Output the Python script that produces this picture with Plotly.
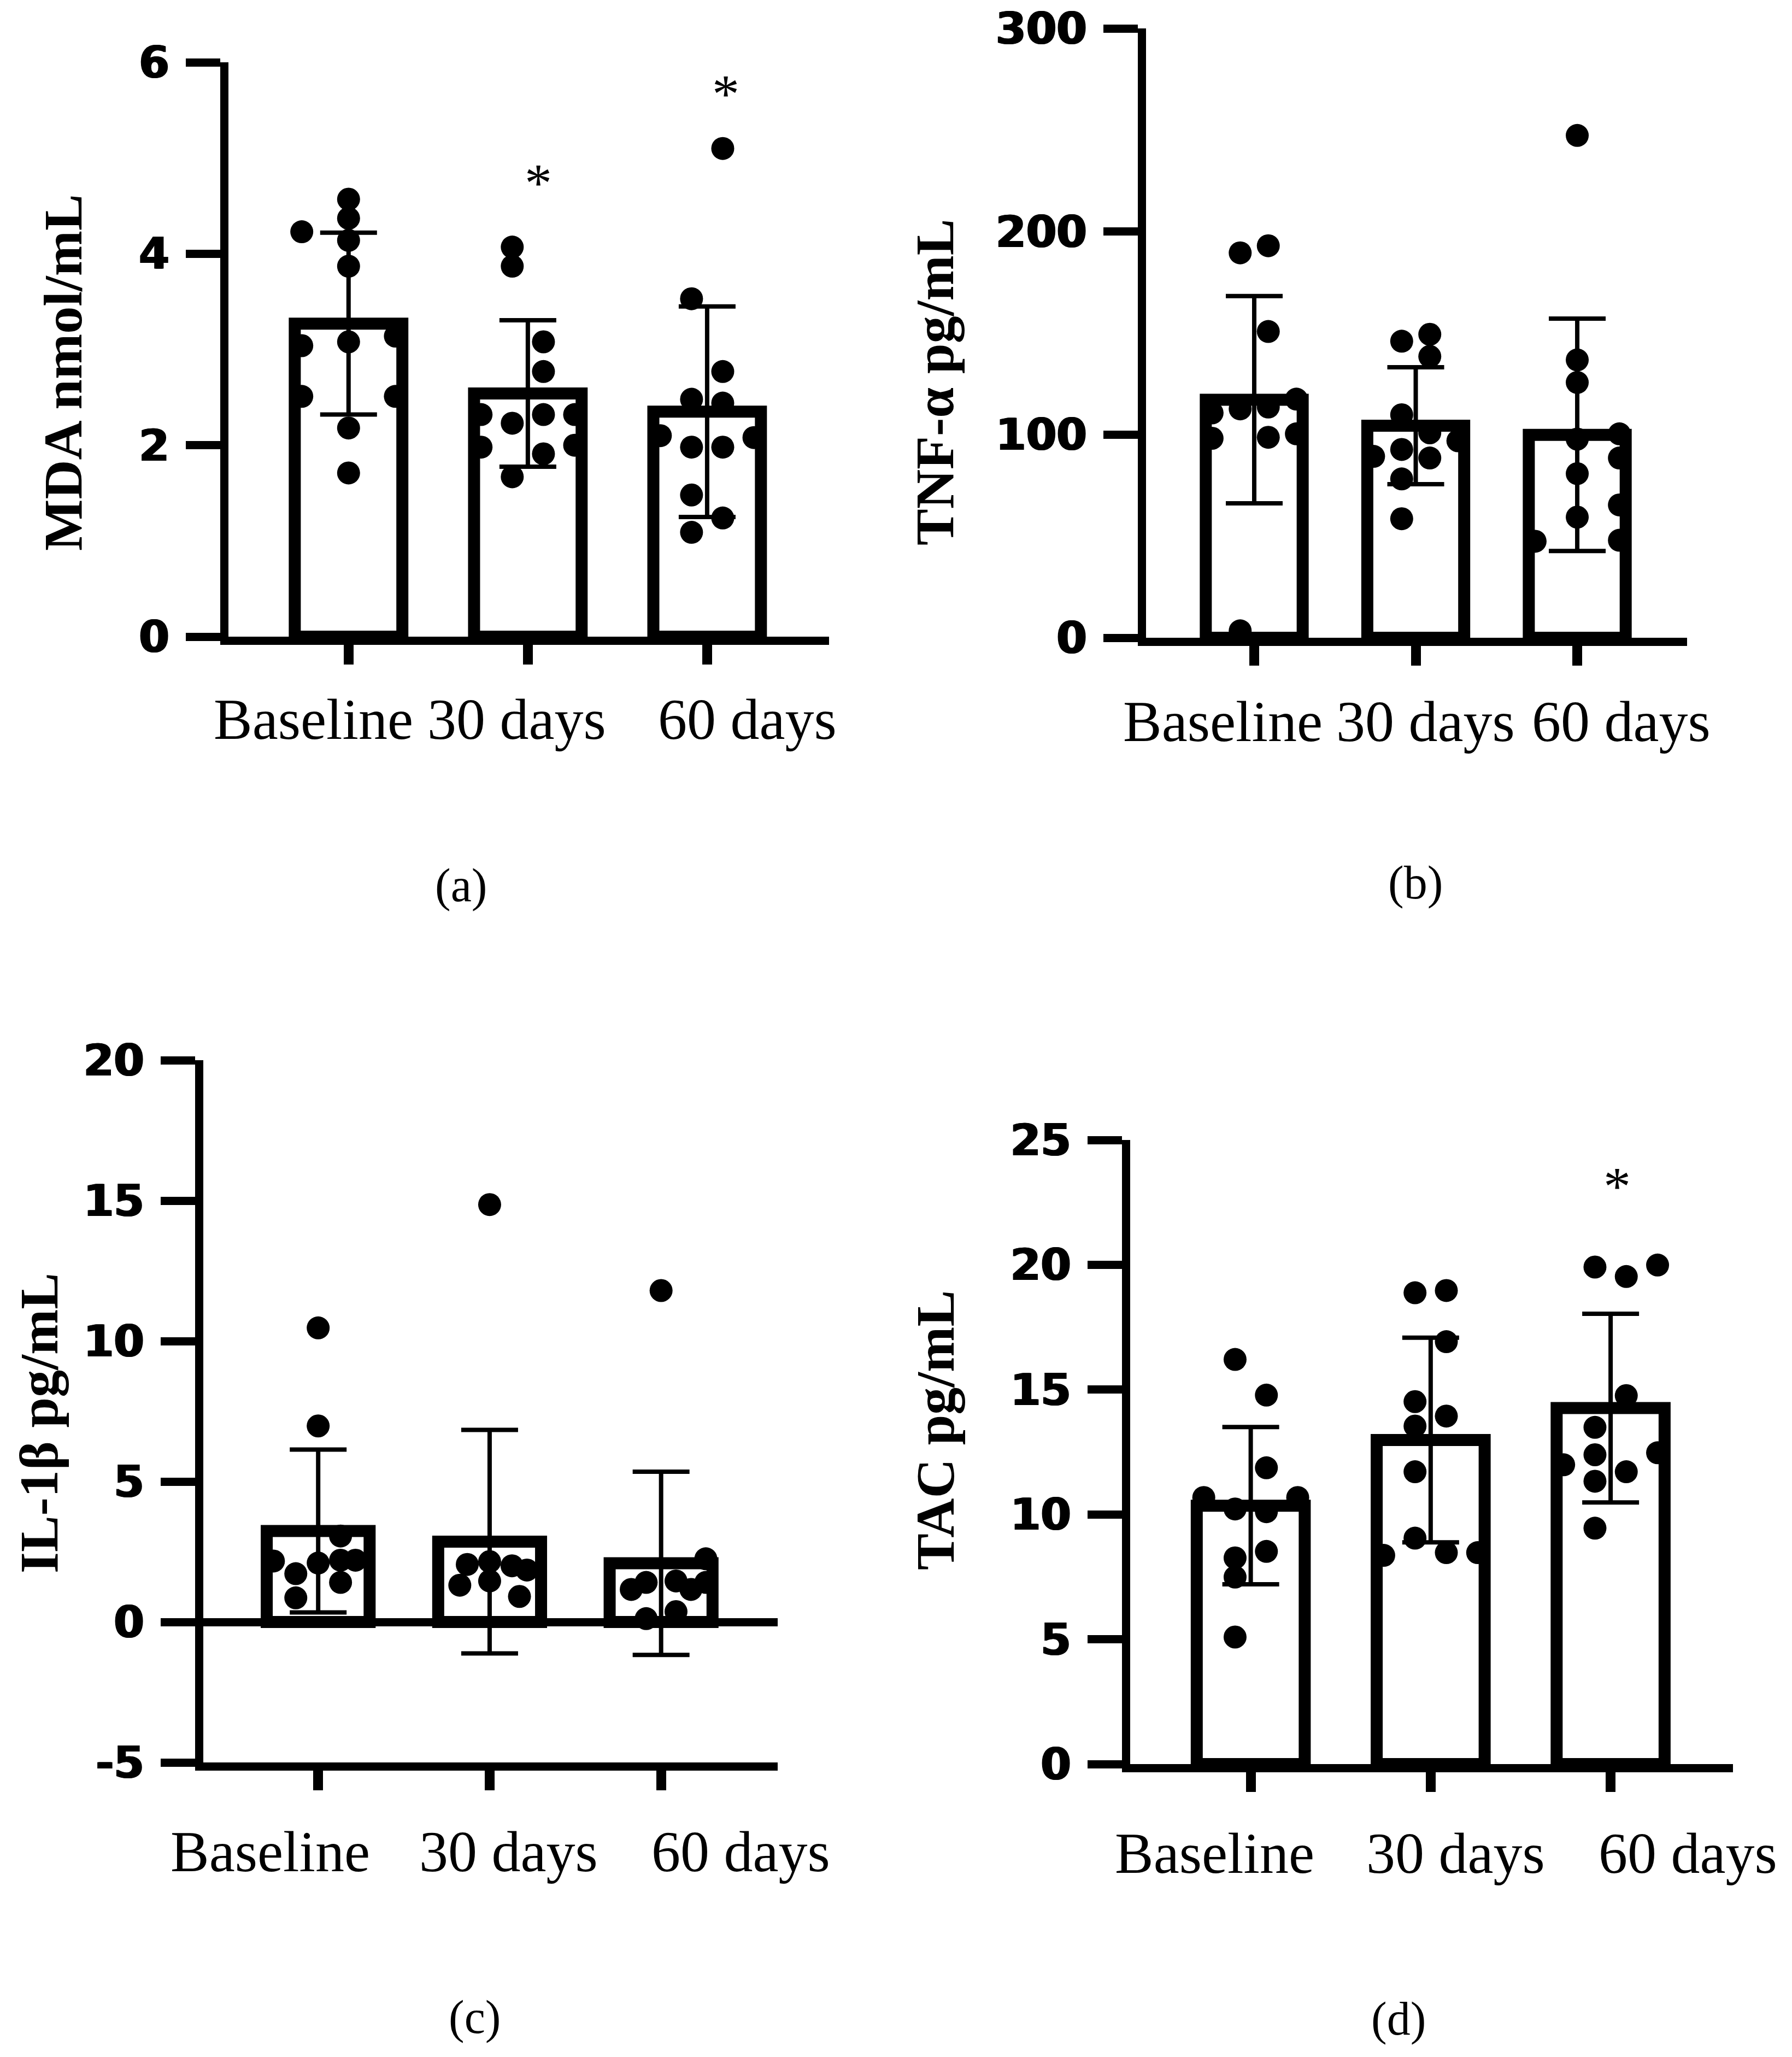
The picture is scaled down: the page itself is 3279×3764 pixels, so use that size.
import plotly.graph_objects as go

W, H = 3279, 3764

CATEGORIES = ["Baseline", "30 days", "60 days"]

# ---- (a) MDA nmol/mL ----
MDA_BASELINE = [4.23, 4.57, 4.37, 4.14, 3.87, 3.04, 3.08, 3.14, 2.51, 2.51, 2.18, 1.71]
MDA_30 = [4.07, 3.87, 3.08, 2.77, 2.32, 2.23, 2.32, 2.32, 1.98, 2.00, 1.91, 1.67]
MDA_60 = [5.10, 3.53, 2.77, 2.48, 2.44, 2.10, 1.98, 1.98, 2.08, 1.48, 1.24, 1.09]
MDA_MEAN = [3.27, 2.54, 2.35]
MDA_SD = [0.95, 0.765, 1.10]
MDA_TICKS = [0, 2, 4, 6]

# ---- (b) TNF-alpha pg/mL ----
TNF_BASELINE = [189.5, 193, 150.8, 117.5, 113.6, 112.7, 110.7, 98.2, 98.7, 100.4, 3.4]
TNF_30 = [146, 149.4, 138.5, 109.8, 100.9, 97, 89.3, 92.7, 88.5, 78.2, 58.6]
TNF_60 = [247.3, 136.8, 125.7, 100.4, 97.8, 88.5, 80.8, 65.4, 59.4, 47.5, 48]
TNF_MEAN = [117.2, 104.4, 99.9]
TNF_SD = [51.0, 28.8, 57.2]
TNF_TICKS = [0, 100, 200, 300]

# ---- (c) IL-1beta pg/mL ----
IL_BASELINE = [10.47, 6.98, 3.06, 2.17, 2.10, 2.20, 1.72, 1.41, 0.86, 2.2]
IL_30 = [14.86, 2.05, 2.15, 2.0, 1.85, 1.31, 1.46, 0.91]
IL_60 = [11.8, 2.25, 1.16, 1.41, 1.46, 1.16, 1.41, 0.37, 0.12]
IL_MEAN = [3.24, 2.86, 2.09]
IL_SD = [2.90, 3.98, 3.26]
IL_TICKS = [-5, 0, 5, 10, 15, 20]

# ---- (d) TAC pg/mL ----
TAC_BASELINE = [16.21, 14.78, 11.87, 10.68, 10.68, 10.22, 10.11, 8.52, 8.26, 7.49, 5.09]
TAC_30 = [18.88, 18.97, 16.92, 14.52, 13.94, 13.54, 11.71, 9.05, 8.36, 8.47, 8.47]
TAC_60 = [19.91, 19.53, 19.99, 14.76, 13.49, 12.47, 12.39, 11.99, 11.71, 11.33, 9.45]
TAC_MEAN = [10.35, 12.98, 14.26]
TAC_SD = [3.15, 4.10, 3.78]
TAC_TICKS = [0, 5, 10, 15, 20, 25]

# significance stars: (panel, category index, y value)
STARS = [(0, 1, 4.86), (0, 2, 5.79), (3, 2, 23.6)]

# ---- styling: horizontal scatter lanes (jitter) for each point ----
JIT = 0.0435
MDA_LANES = [[-6, 0, 0, 0, 0, -6, 0, 6, -6, 6, 0, 0],
             [-2, -2, 2, 2, -6, -2, 2, 6, -6, 6, 2, -2],
             [2, -2, 2, -2, 2, -6, -2, 2, 6, -2, 2, -2]]
TNF_LANES = [[-2, 2, 2, 6, 2, -2, -6, -6, 2, 6, -2],
             [-2, 2, 2, -2, 2, 6, -6, -2, 2, -2, -2],
             [0, 0, 0, 6, 0, 6, 0, 6, 0, -6, 6]]
IL_LANES = [[0, 0, 3, -6, 0, 3, -3, 3, -3, 5],
            [0, -3, 0, 3, 5, -4, 0, 4],
            [0, 6, -4, -2, 2, 4, 6, 2, -2]]
TAC_LANES = [[-2, 2, 2, -6, 6, -2, 2, 2, -2, -2, -2],
             [-2, 2, 2, -2, 2, -2, -2, -2, -6, 2, 6],
             [-2, 2, 6, 2, -2, 6, -2, -6, 2, -2, -2]]

PANELS = [
    dict(groups=[MDA_BASELINE, MDA_30, MDA_60], lanes=MDA_LANES, mean=MDA_MEAN, sd=MDA_SD,
         ticks=MDA_TICKS, yrange=[0, 6], title="MDA nmol/mL", letter="(a)",
         box=(418, 1517, 114, 1165), title_xy=(116, 682), letter_xy=(843, 1620),
         lab_y=1316, lab_shift=[-64, -20, 74], zero=False),
    dict(groups=[TNF_BASELINE, TNF_30, TNF_60], lanes=TNF_LANES, mean=TNF_MEAN, sd=TNF_SD,
         ticks=TNF_TICKS, yrange=[0, 300], title="TNF-\u03b1 pg/mL", letter="(b)",
         box=(2097, 3087, 52, 1167), title_xy=(1711, 699), letter_xy=(2590, 1615),
         lab_y=1321, lab_shift=[-58, 18, 80], zero=False),
    dict(groups=[IL_BASELINE, IL_30, IL_60], lanes=IL_LANES, mean=IL_MEAN, sd=IL_SD,
         ticks=IL_TICKS, yrange=[-5, 20], title="IL-1\u03b2 pg/mL", letter="(c)",
         box=(372, 1423, 1940, 3225), title_xy=(71, 2604), letter_xy=(868, 3691),
         lab_y=3388, lab_shift=[-88, 35, 146], zero=True),
    dict(groups=[TAC_BASELINE, TAC_30, TAC_60], lanes=TAC_LANES, mean=TAC_MEAN, sd=TAC_SD,
         ticks=TAC_TICKS, yrange=[0, 25], title="TAC pg/mL", letter="(d)",
         box=(2068, 3171, 2086, 3228), title_xy=(1711, 2617), letter_xy=(2559, 3694),
         lab_y=3391, lab_shift=[-66, 46, 141], zero=False),
]

SERIF = "Liberation Serif"
TICKFONT = dict(family="DejaVu Sans", size=80, color="black", weight="bold",
                shadow="1.5px 0px 0px black, -1.5px 0px 0px black")

fig = go.Figure()
layout = dict(width=W, height=H, margin=dict(l=0, r=0, t=0, b=0, pad=0), autosize=False,
              paper_bgcolor="white", plot_bgcolor="white", showlegend=False)
annotations = []

for k, p in enumerate(PANELS, start=1):
    xa = "x" if k == 1 else f"x{k}"
    ya = "y" if k == 1 else f"y{k}"
    idx = list(range(len(CATEGORIES)))

    fig.add_trace(go.Bar(x=idx, y=p["mean"], width=0.6, xaxis=xa, yaxis=ya,
                         marker=dict(color="white", line=dict(color="black", width=22)),
                         hoverinfo="skip"))
    xs, ys = [], []
    for g, (vals, lanes) in enumerate(zip(p["groups"], p["lanes"])):
        for v, ln in zip(vals, lanes):
            xs.append(g + ln * JIT)
            ys.append(v)
    fig.add_trace(go.Scatter(x=xs, y=ys, mode="markers", xaxis=xa, yaxis=ya,
                             marker=dict(color="black", size=42, line=dict(width=0)),
                             cliponaxis=False))
    fig.add_trace(go.Scatter(x=idx, y=p["mean"], mode="markers", xaxis=xa, yaxis=ya,
                             marker=dict(color="rgba(0,0,0,0)", size=1),
                             error_y=dict(type="data", array=p["sd"], visible=True,
                                          color="black", thickness=8, width=52),
                             cliponaxis=False))

    x0, x1, y0, y1 = p["box"]
    axis_key = "xaxis" if k == 1 else f"xaxis{k}"
    yaxis_key = "yaxis" if k == 1 else f"yaxis{k}"
    layout[axis_key] = dict(domain=[x0 / W, x1 / W], range=[-0.67, 2.68], anchor=ya,
                            tickvals=idx, showticklabels=False, ticks="outside",
                            ticklen=36, tickwidth=18, tickcolor="black",
                            showline=True, linewidth=15, linecolor="black",
                            showgrid=False, zeroline=False, fixedrange=True, automargin=False)
    layout[yaxis_key] = dict(domain=[1 - y1 / H, 1 - y0 / H], range=p["yrange"], anchor=xa,
                             tickvals=p["ticks"], ticktext=[str(t) for t in p["ticks"]],
                             ticks="outside", ticklen=63, tickwidth=15,
                             tickcolor="black", tickfont=TICKFONT, ticklabelstandoff=14,
                             showline=True, linewidth=15, linecolor="black",
                             showgrid=False, zeroline=p["zero"], zerolinewidth=15,
                             zerolinecolor="black", fixedrange=True, automargin=False)

    for g, name in enumerate(CATEGORIES):
        annotations.append(dict(text=name, xref=xa, yref="paper", x=g, y=1 - p["lab_y"] / H,
                                xanchor="center", yanchor="middle", xshift=p["lab_shift"][g],
                                showarrow=False, font=dict(family=SERIF, size=106, color="black")))
    tx, ty = p["title_xy"]
    annotations.append(dict(text=p["title"], xref="paper", yref="paper", x=tx / W, y=1 - ty / H,
                            xanchor="center", yanchor="middle", textangle=-90, showarrow=False,
                            font=dict(family=SERIF, size=100, color="black", weight="bold")))
    lx, ly = p["letter_xy"]
    annotations.append(dict(text=p["letter"], xref="paper", yref="paper", x=lx / W, y=1 - ly / H,
                            xanchor="center", yanchor="middle", showarrow=False,
                            font=dict(family=SERIF, size=86, color="black")))

STAR_XSHIFT = [19, 34, 12]
for (pi, g, yv), xsh in zip(STARS, STAR_XSHIFT):
    k = pi + 1
    xa = "x" if k == 1 else f"x{k}"
    ya = "y" if k == 1 else f"y{k}"
    annotations.append(dict(text="*", xref=xa, yref=ya, x=g, y=yv, xshift=xsh, yshift=-21,
                            xanchor="center", yanchor="middle", showarrow=False,
                            font=dict(family=SERIF, size=100, color="black")))

layout["annotations"] = annotations
fig.update_layout(**layout)
fig.write_html("out.html",
               config={"displayModeBar": False, "staticPlot": True},
               post_script="document.body.style.margin='0';document.body.style.padding='0';"
                           "document.documentElement.style.overflow='hidden';")
